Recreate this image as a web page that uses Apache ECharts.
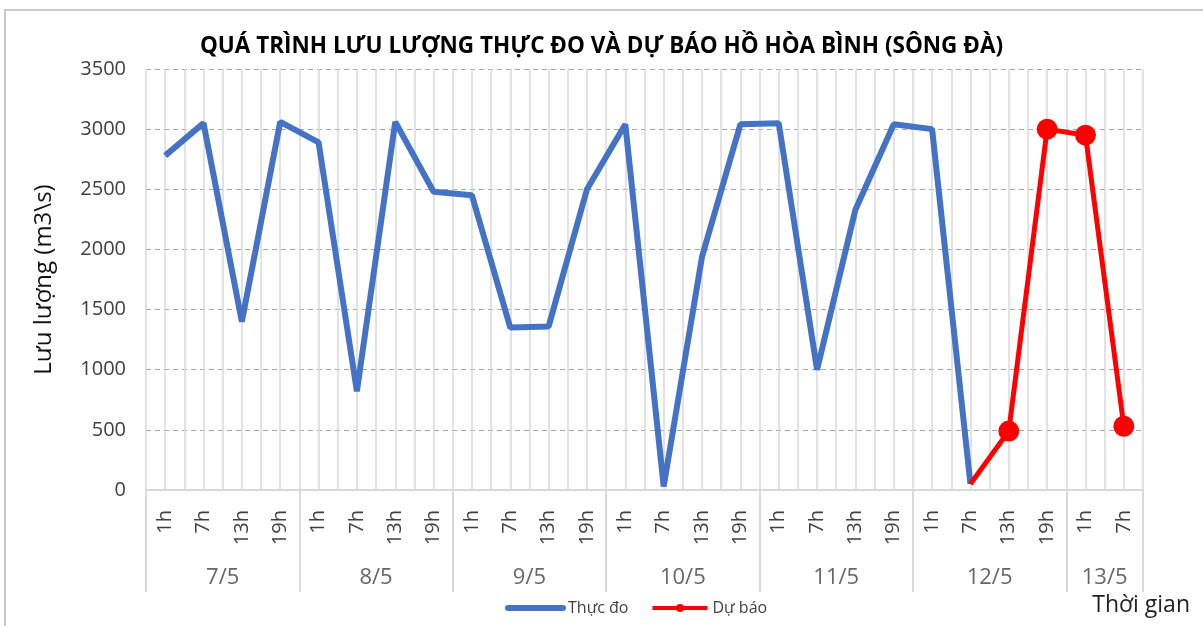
<!DOCTYPE html>
<html><head><meta charset="utf-8">
<script src="https://cdn.jsdelivr.net/npm/echarts@6/dist/echarts.min.js"></script>
<style>html,body{margin:0;padding:0;background:#fff}#c{width:1203px;height:626px}</style>
</head><body><div id="c"></div>
<script>
const hours = ['1h','7h','13h','19h','1h','7h','13h','19h','1h','7h','13h','19h','1h','7h','13h','19h','1h','7h','13h','19h','1h','7h','13h','19h','1h','7h'];
const days = ['7/5','8/5','9/5','10/5','11/5','12/5','13/5'];
const daySizes = [4,4,4,4,4,4,2];
const observed = [2780,3050,1400,3060,2890,820,3060,2480,2450,1350,1360,2500,3040,30,1940,3040,3050,1000,2330,3040,3000,50,null,null,null,null];
const forecast = [null,null,null,null,null,null,null,null,null,null,null,null,null,null,null,null,null,null,null,null,null,50,490,3000,2950,530];
const yTicks = [0,500,1000,1500,2000,2500,3000,3500];

const FONT = 'Open Sans';
const grey = '#404040';
let acc = 0; const dayPts = [];
days.forEach((d,i)=>{ dayPts.push({value:[acc + daySizes[i]/2, 0.14], name:d}); acc += daySizes[i]; });

const forecastData = forecast.map((v,i)=> (v!==null && (i===0 || forecast[i-1]===null)) ? {value:v, symbol:'none'} : v);

const chart = echarts.init(document.getElementById('c'));
chart.setOption({
  animation:false,
  textStyle:{fontFamily:FONT},
  graphic:[{type:'rect', shape:{x:5,y:10,width:1220,height:700}, style:{fill:'none', stroke:'#c8c8c8', lineWidth:2}, silent:true}],
  title:[
    {text:'QUÁ TRÌNH LƯU LƯỢNG THỰC ĐO VÀ DỰ BÁO HỒ HÒA BÌNH (SÔNG ĐÀ)', left:'center', top:30,
     textStyle:{fontFamily:FONT, fontWeight:'bold', fontSize:22.5, color:'#000'}},
    {text:'Thời gian', right:8, top:589, textStyle:{fontFamily:FONT, fontWeight:'normal', fontSize:23, color:'#222'}}
  ],
  legend:{left:500, top:595, itemWidth:55, itemHeight:10, itemGap:22,
    textStyle:{fontFamily:FONT, fontSize:16, color:'#404040'},
    data:[
      {name:'Thực đo', itemStyle:{opacity:0}, lineStyle:{width:6, color:'#4472C4', cap:'round'}},
      {name:'Dự báo', lineStyle:{width:4, color:'#FF0000'}}
    ]},
  grid:[
    {left:146, right:60, top:69, bottom:136},
    {left:146, right:60, top:490, height:102}
  ],
  xAxis:[
    {type:'category', gridIndex:0, data:hours, boundaryGap:true,
     axisLine:{show:true, lineStyle:{color:'#d9d9d9', width:2}}, axisTick:{show:false},
     axisLabel:{rotate:90, interval:0, fontSize:20, color:grey, margin:20, fontFamily:FONT},
     splitLine:{show:false}},
    {type:'value', gridIndex:0, min:0, max:hours.length, interval:0.5, position:'top',
     axisLine:{show:false}, axisTick:{show:false}, axisLabel:{show:false},
     splitLine:{show:true, lineStyle:{color:'#d9d9d9', width:1.5}}},
    {type:'value', gridIndex:1, min:0, max:hours.length, interval:4,
     axisLine:{show:false}, axisTick:{show:false}, axisLabel:{show:false},
     splitLine:{show:true, lineStyle:{color:'#d9d9d9', width:2}}}
  ],
  yAxis:[
    {type:'value', gridIndex:0, min:yTicks[0], max:yTicks[yTicks.length-1], interval:500,
     name:'Lưu lượng (m3\\s)', nameLocation:'middle', nameGap:90,
     nameTextStyle:{fontFamily:FONT, fontSize:24, color:'#111'},
     axisLine:{show:false}, axisTick:{show:false},
     axisLabel:{fontSize:20, color:grey, margin:20, fontFamily:FONT, formatter:v=>String(v)},
     splitLine:{show:true, lineStyle:{color:'#a6a6a6', type:[5,4], width:1.2}}},
    {type:'value', gridIndex:1, min:0, max:1, show:false}
  ],
  series:[
    {name:'Thực đo', type:'line', xAxisIndex:0, yAxisIndex:0, data:observed, symbol:'none',
     lineStyle:{color:'#4472C4', width:6}, itemStyle:{color:'#4472C4'}, z:3},
    {name:'Dự báo', type:'line', xAxisIndex:0, yAxisIndex:0, data:forecastData, symbol:'circle', symbolSize:21,
     lineStyle:{color:'#FF0000', width:5}, itemStyle:{color:'#FF0000'}, z:4},
    {type:'scatter', xAxisIndex:2, yAxisIndex:1, data:dayPts, symbolSize:1, itemStyle:{color:'rgba(0,0,0,0)'},
     silent:true, legendHoverLink:false,
     label:{show:true, position:'inside', formatter:p=>p.name, fontSize:22, color:grey, fontFamily:FONT}}
  ]
});
</script></body></html>
